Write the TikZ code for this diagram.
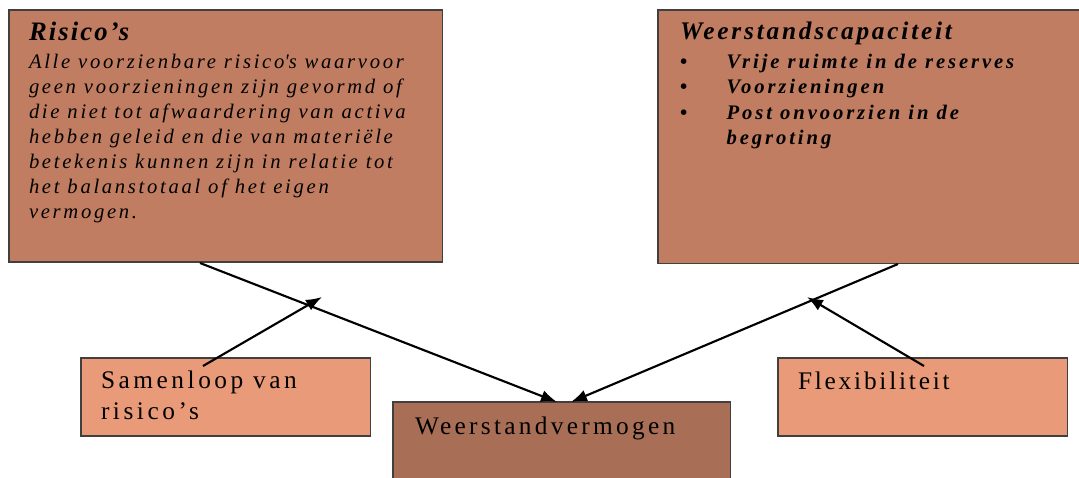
\documentclass[tikz,border=0pt]{standalone}
\usepackage{fontspec}
\setmainfont{Liberation Serif}
\usetikzlibrary{arrows.meta}
\definecolor{boxmain}{HTML}{C17D61}
\definecolor{boxlight}{HTML}{E99A78}
\definecolor{boxdark}{HTML}{A96F56}
\definecolor{edge}{HTML}{404040}
\tikzset{
  box/.style={draw=edge, line width=0.8pt, inner sep=0pt, outer sep=0pt, anchor=north west},
  txt/.style={inner sep=0pt, outer sep=0pt, anchor=north west, align=left},
  conn/.style={line width=1.6pt, -{Latex[length=12pt,width=9pt]}},
}
\begin{document}
\begin{tikzpicture}[x=0.75pt,y=-0.75pt]
\useasboundingbox (0,0) rectangle (1079,478);
% boxes
\node[box, fill=boxmain, minimum width=325pt, minimum height=189pt] (A) at (9,10) {};
\node[box, fill=boxmain, minimum width=320pt, minimum height=190pt] (B) at (658,10) {};
\node[box, fill=boxlight, minimum width=217pt, minimum height=58.5pt] (S) at (81,358) {};
\node[box, fill=boxdark, minimum width=253pt, minimum height=70pt] (W) at (393,402) {};
\node[box, fill=boxlight, minimum width=217pt, minimum height=58.5pt] (F) at (778,358) {};
% texts
\node[txt, font={\fontsize{20pt}{22pt}\selectfont\bfseries\itshape\addfontfeatures{LetterSpace=8}}] (Atitle) at (29,22) {Risico’s};
\node[txt, font={\fontsize{15.5pt}{18.75pt}\selectfont\itshape\addfontfeatures{LetterSpace=13}}] (Abody) at (29,54) {Alle voorzienbare risico\textquotesingle s waarvoor\\geen voorzieningen zijn gevormd of\\die niet tot afwaardering van activa\\hebben geleid en die van materiële\\betekenis kunnen zijn in relatie tot\\het balanstotaal of het eigen\\vermogen.};
\node[txt, font={\fontsize{19pt}{22pt}\selectfont\bfseries\itshape\addfontfeatures{LetterSpace=11}}] (Btitle) at (680,22) {Weerstandscapaciteit};
\node[txt, font={\fontsize{15.5pt}{19pt}\selectfont\bfseries\itshape\addfontfeatures{LetterSpace=14}}] (Bbody) at (680,54) {\makebox[35pt][l]{\upshape•}Vrije ruimte in de reserves\\\makebox[35pt][l]{\upshape•}Voorzieningen\\\makebox[35pt][l]{\upshape•}Post onvoorzien in de\\\hspace*{35pt}begroting};
\node[txt, font={\fontsize{19pt}{23pt}\selectfont\addfontfeatures{LetterSpace=14}}] (Stext) at (101,371) {Samenloop van\\risico’s};
\node[txt, font={\fontsize{19pt}{23pt}\selectfont\addfontfeatures{LetterSpace=13}}] (Wtext) at (415,417) {Weerstandvermogen};
\node[txt, font={\fontsize{19pt}{23pt}\selectfont\addfontfeatures{LetterSpace=11}}] (Ftext) at (798,372) {Flexibiliteit};
% connector coordinates
\coordinate (a1) at (200,263);
\coordinate (w1) at (557,402);
\coordinate (b1) at (898,264);
\coordinate (w2) at (571,402);
\coordinate (s1) at (203,366);
\coordinate (j1) at (322,297);
\coordinate (f1) at (924,366);
\coordinate (j2) at (807,297);
\draw[conn] (a1) -- (w1);
\draw[conn] (b1) -- (w2);
\draw[conn] (s1) -- (j1);
\draw[conn] (f1) -- (j2);
\end{tikzpicture}
\end{document}
